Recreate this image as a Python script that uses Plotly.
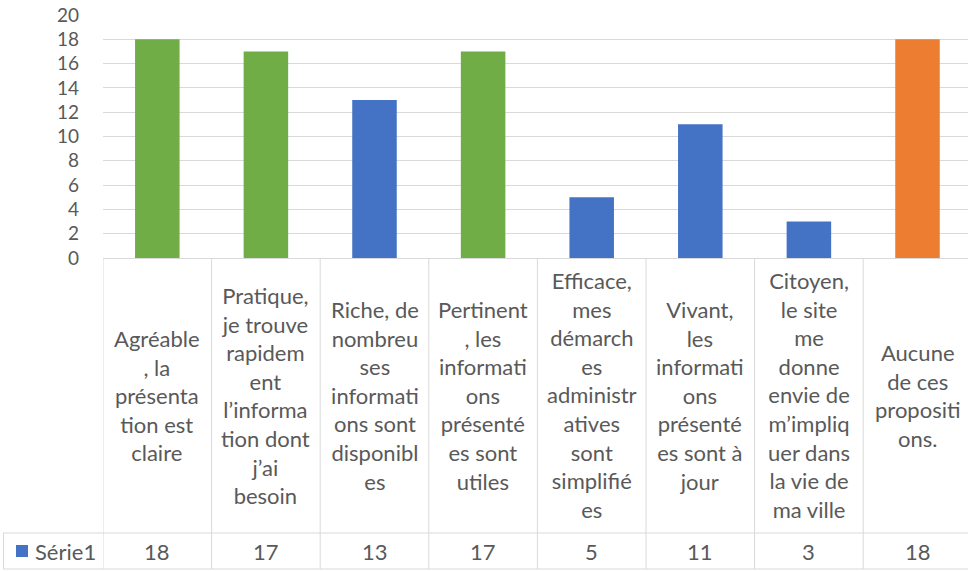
import plotly.graph_objects as go

# ---- data ----
categories = [
    "Agréable<br>, la<br>présenta<br>tion est<br>claire",
    "Pratique,<br>je trouve<br>rapidem<br>ent<br>l’informa<br>tion dont<br>j’ai<br>besoin",
    "Riche, de<br>nombreu<br>ses<br>informati<br>ons sont<br>disponibl<br>es",
    "Pertinent<br>, les<br>informati<br>ons<br>présenté<br>es sont<br>utiles",
    "Efficace,<br>mes<br>démarch<br>es<br>administr<br>atives<br>sont<br>simplifié<br>es",
    "Vivant,<br>les<br>informati<br>ons<br>présenté<br>es sont à<br>jour",
    "Citoyen,<br>le site<br>me<br>donne<br>envie de<br>m’impliq<br>uer dans<br>la vie de<br>ma ville",
    "Aucune<br>de ces<br>propositi<br>ons.",
]
values = [18, 17, 13, 17, 5, 11, 3, 18]
series_name = "Série1"
y_ticks = [0, 2, 4, 6, 8, 10, 12, 14, 16, 18, 20]

# ---- style ----
GREEN, BLUE, ORANGE = "#70AD47", "#4472C4", "#ED7D31"
bar_colors = [GREEN, GREEN, BLUE, GREEN, BLUE, BLUE, BLUE, ORANGE]
TXT = "#595959"
GRID = "#D9D9D9"
FONT = "Lato"
FS = 22
FS_TICK = 19
W, H = 968, 571

def py(p):
    return 1 - p / H

def px(p):
    return p / W

idx = list(range(len(values)))

fig = go.Figure(go.Bar(
    x=idx, y=values, marker=dict(color=bar_colors, line=dict(width=0)),
    width=0.41, showlegend=False, hoverinfo="skip",
))

shapes = []
annotations = []
line = dict(color=GRID, width=1)
for i in range(len(values) + 1):
    shapes.append(dict(type="line", xref="x", yref="paper", x0=i - 0.5, x1=i - 0.5,
                       y0=py(258), y1=py(569), line=line, layer="above"))
for yy in (533, 569):
    shapes.append(dict(type="line", xref="paper", yref="paper", x0=px(3), x1=1.01,
                       y0=py(yy), y1=py(yy), line=line))
shapes.append(dict(type="line", xref="paper", yref="paper", x0=px(3.5), x1=px(3.5),
                   y0=py(533), y1=py(569), line=line))
# legend key
shapes.append(dict(type="rect", xref="paper", yref="paper", x0=px(16), x1=px(28),
                   y0=py(557), y1=py(545), fillcolor=BLUE, line=dict(width=0)))
annotations.append(dict(text=series_name, xref="paper", yref="paper", x=px(33), y=py(551),
                        xanchor="left", yanchor="middle", showarrow=False,
                        font=dict(family=FONT, size=FS, color=TXT)))

for i, (c, v) in enumerate(zip(categories, values)):
    annotations.append(dict(text=c, xref="x", yref="paper", x=i, y=py(395),
                            xanchor="center", yanchor="middle", align="center", showarrow=False,
                            font=dict(family=FONT, size=FS, color=TXT)))
    annotations.append(dict(text=str(v), xref="x", yref="paper", x=i, y=py(551),
                            xanchor="center", yanchor="middle", showarrow=False,
                            font=dict(family=FONT, size=FS, color=TXT)))

fig.update_layout(
    template="none",
    width=W, height=H,
    margin=dict(l=0, r=0, t=0, b=0, pad=0),
    paper_bgcolor="white", plot_bgcolor="white",
    xaxis=dict(domain=[px(103), 1.0], range=[-0.5, 7.465], showticklabels=False,
               showgrid=False, zeroline=False, showline=False, anchor="y",
               automargin=False, ticks=""),
    yaxis=dict(domain=[py(258), py(15)], range=[0, 20], tickvals=y_ticks,
               showgrid=True, gridcolor=GRID, gridwidth=1, zeroline=True,
               zerolinecolor=GRID, zerolinewidth=1, showline=False, ticks="",
               automargin=False, ticklabelstandoff=23,
               tickfont=dict(family=FONT, size=FS_TICK, color=TXT)),
    shapes=shapes, annotations=annotations,
)

fig.write_html("out.html", config={"displayModeBar": False},
               post_script="document.body.style.margin='0';document.body.style.overflow='hidden';")
